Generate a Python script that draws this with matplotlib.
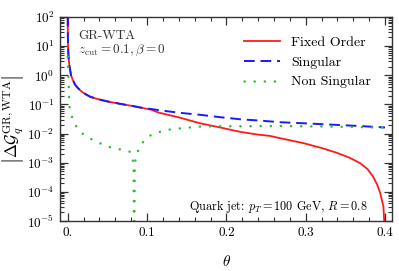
import matplotlib
matplotlib.use("Agg")
import matplotlib.pyplot as plt
from matplotlib.ticker import FixedLocator, FixedFormatter, LogLocator, NullFormatter

plt.rcParams["font.family"] = "serif"
plt.rcParams["font.serif"] = ["cmr10"]
plt.rcParams["mathtext.fontset"] = "cm"
plt.rcParams["axes.unicode_minus"] = False
plt.rcParams["axes.formatter.use_mathtext"] = True

# Daten
theta_s = [0.00004, 0.0001, 0.0003, 0.0006, 0.001, 0.002, 0.0042, 0.0065, 0.0092, 0.013,
           0.0176, 0.023, 0.028, 0.035, 0.041, 0.051, 0.062, 0.072, 0.083, 0.093, 0.105,
           0.114, 0.14, 0.167, 0.19, 0.217, 0.245, 0.268, 0.30, 0.33, 0.36, 0.38, 0.40]
singular = [110, 44, 15, 7.5, 4.5, 2.2, 1.0, 0.68, 0.48, 0.36,
            0.275, 0.22, 0.186, 0.16, 0.145, 0.125, 0.11, 0.098, 0.087, 0.077, 0.070,
            0.064, 0.052, 0.044, 0.037, 0.031, 0.0275, 0.0245, 0.0224, 0.0204, 0.0186, 0.0174, 0.0162]

theta_fo = [0.00004, 0.0001, 0.0003, 0.0006, 0.001, 0.002, 0.0042, 0.0065, 0.0092, 0.013,
            0.0176, 0.023, 0.028, 0.035, 0.041, 0.051, 0.062, 0.072, 0.083, 0.093, 0.105,
            0.114, 0.14, 0.167, 0.19, 0.217, 0.24, 0.255, 0.268, 0.297, 0.32, 0.339, 0.355,
            0.369, 0.378, 0.385, 0.39, 0.394, 0.398, 0.4]
fixed_order = [110, 44, 15, 7.5, 4.5, 2.2, 1.0, 0.68, 0.48, 0.36,
               0.275, 0.22, 0.186, 0.16, 0.145, 0.125, 0.11, 0.098, 0.087, 0.077, 0.066,
               0.053, 0.036, 0.0225, 0.0167, 0.0115, 0.0092, 0.0083, 0.0069, 0.0047, 0.0032, 0.0022, 0.0015,
               0.00095, 0.0006, 0.00033, 0.00018, 0.000089, 0.000031, 0.000003]

theta_ns = [0.0001, 0.0004, 0.0008, 0.0013, 0.0017, 0.002, 0.0028, 0.0038, 0.0067, 0.011,
            0.017, 0.026, 0.034, 0.042, 0.052, 0.061, 0.071, 0.079, 0.082, 0.0832, 0.0838,
            0.0844, 0.0856, 0.088, 0.092, 0.098, 0.105, 0.114, 0.123, 0.142, 0.167, 0.19,
            0.22, 0.26, 0.28, 0.32, 0.36, 0.40]
non_singular = [4.4, 2.5, 1.0, 0.4, 0.21, 0.095, 0.07, 0.050, 0.0295, 0.0174,
                0.0107, 0.0074, 0.0055, 0.0045, 0.0035, 0.0030, 0.00275, 0.00235, 0.0015, 0.0005, 1e-8,
                0.0005, 0.0015, 0.0023, 0.0041, 0.0063, 0.0089, 0.011, 0.0132, 0.0151, 0.0174, 0.0178,
                0.0178, 0.0182, 0.018, 0.0175, 0.0168, 0.0160]

xticks = [0.0, 0.1, 0.2, 0.3, 0.4]
xtick_labels = ["0.", "0.1", "0.2", "0.3", "0.4"]

fig = plt.figure(figsize=(3.99, 2.71), dpi=100)
ax = fig.add_axes([0.1504, 0.1845, 0.8321, 0.7528])

ax.plot(theta_fo, fixed_order, color="#ff1a1a", lw=1.3, label="Fixed Order")
ax.plot(theta_s, singular, color="#1a1aff", lw=1.4, ls=(0, (5.5, 3)), label="Singular")
ax.plot(theta_ns, non_singular, color="#33bb33", lw=1.8, ls=(0, (0.05, 4.0)),
        dash_capstyle="round", label="Non Singular")

ax.set_yscale("log")
ax.set_xlim(-0.0097, 0.4088)
ax.set_ylim(1e-5, 1e2)

ax.xaxis.set_major_locator(FixedLocator(xticks))
ax.xaxis.set_major_formatter(FixedFormatter(xtick_labels))
ax.xaxis.set_minor_locator(FixedLocator([i * 0.02 for i in range(21)]))
ax.yaxis.set_major_locator(LogLocator(base=10, numticks=20))
ax.yaxis.set_minor_locator(LogLocator(base=10, subs=range(2, 10), numticks=20))
ax.yaxis.set_minor_formatter(NullFormatter())

ax.tick_params(which="both", direction="in", top=True, right=True, color="#333333",
               labelsize=9.5, pad=4)
ax.tick_params(which="major", length=5.5, width=0.9)
ax.tick_params(which="minor", length=3, width=0.8)
for s in ax.spines.values():
    s.set_color("#333333")
    s.set_linewidth(1.0)

ax.set_xlabel(r"$\theta$", fontsize=11, labelpad=11)
ax.set_ylabel(r"$\left|\Delta\mathcal{G}_q^{\mathrm{GR,WTA}}\right|$", fontsize=12, labelpad=1)

ax.text(0.054, 0.907, "GR-WTA", transform=ax.transAxes, fontsize=9.5, va="center", color="#333333")
ax.text(0.054, 0.838, r"$z_{\rm cut}=0.1, \beta=0$", transform=ax.transAxes, fontsize=9.5,
        va="center", color="#333333")
ax.text(0.928, 0.069, r"Quark jet: $p_T=100$ GeV, $R=0.8$", transform=ax.transAxes,
        fontsize=8.8, ha="right", va="center")

ax.legend(loc="upper left", bbox_to_anchor=(0.553, 0.905), frameon=False, fontsize=10,
          handlelength=2.6, handletextpad=0.8, labelspacing=0.5, borderpad=0,
          borderaxespad=0)

fig.savefig("out.png", dpi=100)
